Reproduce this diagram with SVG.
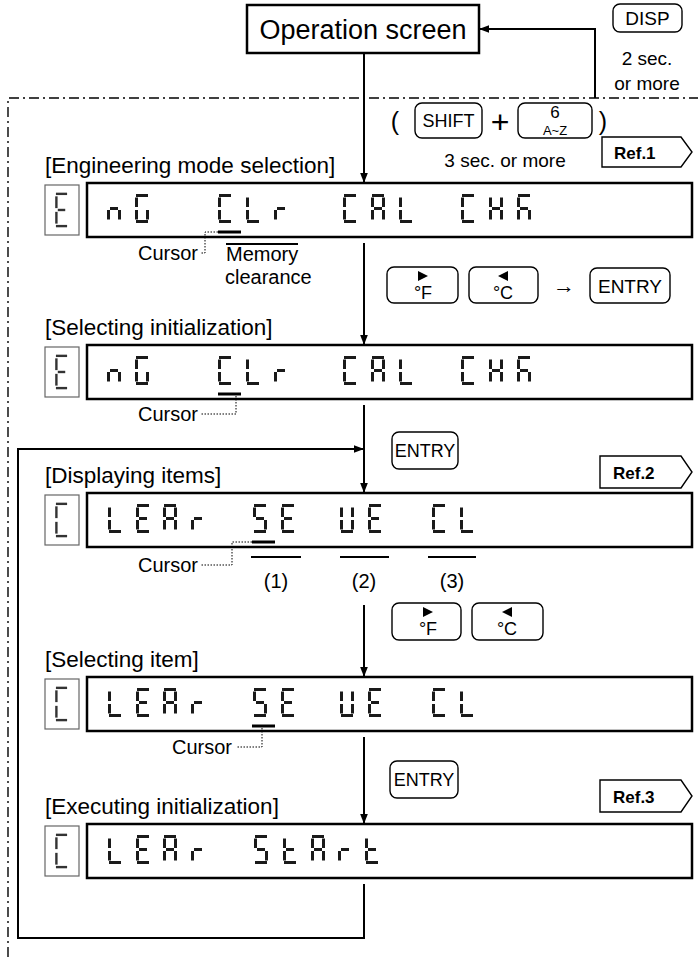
<svg xmlns="http://www.w3.org/2000/svg" width="698" height="957" viewBox="0 0 698 957">
<defs>
<style>
text{font-family:"Liberation Sans",Arial,Helvetica,sans-serif;fill:#000}
.lbl{font-size:22.5px}
.t20{font-size:20px}
.mid{text-anchor:middle}
.end{text-anchor:end}
.key{fill:#fff;stroke:#000;stroke-width:1.4}
.ktx{font-size:18px;text-anchor:middle}
.ftx{font-size:18px;text-anchor:middle}
.disp{fill:#fff;stroke:#000;stroke-width:2.5}
.sbox{fill:#fff;stroke:#666;stroke-width:1.2}
.dg{stroke:#1a1a1a;stroke-width:3}
.sg{stroke:#333;stroke-width:2.4}
.conn{fill:none;stroke:#000;stroke-width:2}
.dot{fill:none;stroke:#000;stroke-width:1;stroke-dasharray:1.5 1.5}
.ovl{stroke:#000;stroke-width:2}
.cur{stroke:#000;stroke-width:3}
.ref{fill:#fff;stroke:#000;stroke-width:1.4}
.reft{font-size:17px;font-weight:bold}
.frame{fill:none;stroke:#000;stroke-width:1.4;stroke-dasharray:10 4 2 4}
</style>
<marker id="ah" viewBox="0 0 10 10" refX="10" refY="5" markerWidth="10" markerHeight="10" orient="auto" markerUnits="userSpaceOnUse">
<path d="M0,1.2 L10,5 L0,8.8 z" fill="#000"/>
</marker>
<line id="sa" x1="1" y1="1.5" x2="13" y2="1.5" vector-effect="non-scaling-stroke"/>
<line id="sb" x1="12.5" y1="3.5" x2="12.5" y2="13" vector-effect="non-scaling-stroke"/>
<line id="sc" x1="12.5" y1="16" x2="12.5" y2="25.5" vector-effect="non-scaling-stroke"/>
<line id="sd" x1="1" y1="27.5" x2="13" y2="27.5" vector-effect="non-scaling-stroke"/>
<line id="se" x1="1.5" y1="16" x2="1.5" y2="25.5" vector-effect="non-scaling-stroke"/>
<line id="sf" x1="1.5" y1="3.5" x2="1.5" y2="13" vector-effect="non-scaling-stroke"/>
<line id="sg" x1="3" y1="14.5" x2="11" y2="14.5" vector-effect="non-scaling-stroke"/>
<g id="g-n"><use href="#se"/><use href="#sg"/><use href="#sc"/></g>
<g id="g-G"><use href="#sa"/><use href="#sf"/><use href="#se"/><use href="#sd"/><use href="#sc"/></g>
<g id="g-C"><use href="#sa"/><use href="#sf"/><use href="#se"/><use href="#sd"/></g>
<g id="g-L"><use href="#sf"/><use href="#se"/><use href="#sd"/></g>
<g id="g-r"><use href="#se"/><use href="#sg"/></g>
<g id="g-A"><use href="#sa"/><use href="#sb"/><use href="#sc"/><use href="#se"/><use href="#sf"/><use href="#sg"/></g>
<g id="g-A2"><use href="#sa"/><use href="#sf"/><use href="#sg"/><use href="#se"/><use href="#sc"/></g>
<g id="g-H"><use href="#sb"/><use href="#sc"/><use href="#se"/><use href="#sf"/><use href="#sg"/></g>
<g id="g-S"><use href="#sa"/><use href="#sf"/><use href="#sg"/><use href="#sc"/><use href="#sd"/></g>
<g id="g-E"><use href="#sa"/><use href="#sf"/><use href="#sg"/><use href="#se"/><use href="#sd"/></g>
<g id="g-U"><use href="#sb"/><use href="#sc"/><use href="#sd"/><use href="#se"/><use href="#sf"/></g>
<g id="g-t"><use href="#sf"/><use href="#sg"/><use href="#se"/><use href="#sd"/></g>
</defs>

<rect width="698" height="957" fill="#fff"/>

<path class="frame" d="M8,957 V98 H698"/>

<g id="connectors">
<path class="conn" d="M364,53 V183" marker-end="url(#ah)"/>
<path class="conn" d="M364,243 V345" marker-end="url(#ah)"/>
<path class="conn" d="M364,405 V493" marker-end="url(#ah)"/>
<path class="conn" d="M364,605 V677" marker-end="url(#ah)"/>
<path class="conn" d="M364,737 V824" marker-end="url(#ah)"/>
<path class="conn" d="M364,884 V938 H18 V449 H364" marker-end="url(#ah)"/>
<path class="conn" d="M595,98 V29 H479" marker-end="url(#ah)"/>
</g>

<g id="op-screen">
<rect x="247" y="5" width="232" height="48" fill="#fff" stroke="#000" stroke-width="2.5"/>
<text x="363" y="39" class="mid" font-size="27">Operation screen</text>
</g>

<g id="disp-key">
<rect class="key" x="613" y="4" width="69" height="28" rx="7"/>
<text x="647.5" y="24.5" class="mid" font-size="19">DISP</text>
<text x="647" y="65" class="mid" font-size="19">2 sec.</text>
<text x="647" y="90" class="mid" font-size="19">or more</text>
</g>

<g id="shift-keys">
<text x="395" y="130" class="mid" font-size="25">(</text>
<rect class="key" x="415" y="103" width="67" height="35" rx="7"/>
<text x="448.5" y="127" class="ktx">SHIFT</text>
<text x="500" y="133" class="mid" font-size="32">+</text>
<rect class="key" x="518" y="103" width="74" height="35" rx="7"/>
<text x="555" y="118" class="mid" font-size="17">6</text>
<text x="555" y="135" class="mid" font-size="13">A~Z</text>
<text x="603" y="130" class="mid" font-size="25">)</text>
<text x="505" y="167" class="mid" font-size="19">3 sec. or more</text>
</g>

<g id="ref1">
<polygon class="ref" points="602,137 681,137 692,152 681,167 602,167"/>
<text x="614" y="159" class="reft">Ref.1</text>
</g>

<g id="row-engineering">
<text x="45" y="173" class="lbl">[Engineering mode selection]</text>
<rect class="sbox" x="45" y="185" width="34" height="50"/>
<use href="#g-E" class="sg" transform="translate(55,192) scale(0.93,1.24)"/>
<rect class="disp" x="87" y="183" width="605" height="54"/>
<g class="dg">
<use href="#g-n" x="107" y="194"/><use href="#g-G" x="135" y="194"/>
<use href="#g-C" x="218" y="194"/><use href="#g-L" x="246" y="194"/><use href="#g-r" x="274" y="194"/>
<use href="#g-C" x="343" y="194"/><use href="#g-A" x="371" y="194"/><use href="#g-L" x="399" y="194"/>
<use href="#g-C" x="461" y="194"/><use href="#g-H" x="489" y="194"/><use href="#g-A2" x="517" y="194"/>
</g>
<line class="cur" x1="218" y1="232" x2="241" y2="232"/>
<path class="dot" d="M218,232 H205 V253 H200"/>
<text x="198" y="260" class="end t20">Cursor</text>
<line class="ovl" x1="226" y1="244" x2="298" y2="244"/>
<text x="226" y="261" class="t20">Memory</text>
<text x="225" y="284" class="t20">clearance</text>
</g>

<g id="keys-1">
<rect class="key" x="387" y="267" width="71" height="36" rx="7"/>
<polygon points="418,271 428,276 418,281" fill="#000"/>
<text x="423" y="299" class="ftx">°F</text>
<rect class="key" x="469" y="267" width="69" height="36" rx="7"/>
<polygon points="508,271 498,276 508,281" fill="#000"/>
<text x="503" y="299" class="ftx">°C</text>
<text x="564" y="293" class="mid" font-size="22">→</text>
<rect class="key" x="590" y="268" width="80" height="35" rx="7"/>
<text x="630" y="292.5" class="mid" font-size="19">ENTRY</text>
</g>

<g id="row-selecting-init">
<text x="45" y="335" class="lbl">[Selecting initialization]</text>
<rect class="sbox" x="45" y="347" width="34" height="50"/>
<use href="#g-E" class="sg" transform="translate(55,354) scale(0.93,1.24)"/>
<rect class="disp" x="87" y="345" width="605" height="54"/>
<g class="dg">
<use href="#g-n" x="107" y="356"/><use href="#g-G" x="135" y="356"/>
<use href="#g-C" x="218" y="356"/><use href="#g-L" x="246" y="356"/><use href="#g-r" x="274" y="356"/>
<use href="#g-C" x="343" y="356"/><use href="#g-A" x="371" y="356"/><use href="#g-L" x="399" y="356"/>
<use href="#g-C" x="461" y="356"/><use href="#g-H" x="489" y="356"/><use href="#g-A2" x="517" y="356"/>
</g>
<line class="cur" x1="218" y1="394" x2="241" y2="394"/>
<path class="dot" d="M236,396 V414 H200"/>
<text x="198" y="421" class="end t20">Cursor</text>
</g>

<g id="keys-2">
<rect class="key" x="392" y="432" width="66" height="37" rx="7"/>
<text x="425" y="457" class="ktx">ENTRY</text>
</g>

<g id="ref2">
<polygon class="ref" points="600,456 681,456 692,472 681,488 600,488"/>
<text x="613" y="479" class="reft">Ref.2</text>
</g>

<g id="row-displaying">
<text x="45" y="483" class="lbl">[Displaying items]</text>
<rect class="sbox" x="45" y="495" width="34" height="50"/>
<use href="#g-C" class="sg" transform="translate(55,502) scale(0.93,1.24)"/>
<rect class="disp" x="87" y="493" width="605" height="54"/>
<g class="dg">
<use href="#g-L" x="108" y="504"/><use href="#g-E" x="136" y="504"/><use href="#g-A" x="163" y="504"/><use href="#g-r" x="191" y="504"/>
<use href="#g-S" x="253" y="504"/><use href="#g-E" x="281" y="504"/>
<use href="#g-U" x="340" y="504"/><use href="#g-E" x="368" y="504"/>
<use href="#g-C" x="432" y="504"/><use href="#g-L" x="460" y="504"/>
</g>
<line class="cur" x1="252" y1="542" x2="275" y2="542"/>
<path class="dot" d="M252,542 H232 V565 H200"/>
<text x="198" y="572" class="end t20">Cursor</text>
<line class="ovl" x1="251" y1="557" x2="301" y2="557"/>
<line class="ovl" x1="340" y1="557" x2="389" y2="557"/>
<line class="ovl" x1="428" y1="557" x2="476" y2="557"/>
<text x="276" y="588" class="mid t20">(1)</text>
<text x="364" y="588" class="mid t20">(2)</text>
<text x="452" y="588" class="mid t20">(3)</text>
</g>

<g id="keys-3">
<rect class="key" x="392" y="603" width="69" height="37" rx="7"/>
<polygon points="423,607 433,612 423,617" fill="#000"/>
<text x="428" y="635" class="ftx">°F</text>
<rect class="key" x="472" y="603" width="71" height="37" rx="7"/>
<polygon points="512,607 502,612 512,617" fill="#000"/>
<text x="507" y="635" class="ftx">°C</text>
</g>

<g id="row-selecting-item">
<text x="45" y="667" class="lbl">[Selecting item]</text>
<rect class="sbox" x="45" y="679" width="34" height="50"/>
<use href="#g-C" class="sg" transform="translate(55,686) scale(0.93,1.24)"/>
<rect class="disp" x="87" y="677" width="605" height="54"/>
<g class="dg">
<use href="#g-L" x="108" y="688"/><use href="#g-E" x="136" y="688"/><use href="#g-A" x="163" y="688"/><use href="#g-r" x="191" y="688"/>
<use href="#g-S" x="253" y="688"/><use href="#g-E" x="281" y="688"/>
<use href="#g-U" x="340" y="688"/><use href="#g-E" x="368" y="688"/>
<use href="#g-C" x="432" y="688"/><use href="#g-L" x="460" y="688"/>
</g>
<line class="cur" x1="252" y1="726" x2="275" y2="726"/>
<path class="dot" d="M262,728 V747 H236"/>
<text x="232" y="754" class="end t20">Cursor</text>
</g>

<g id="keys-4">
<rect class="key" x="390" y="761" width="68" height="37" rx="7"/>
<text x="424" y="786" class="ktx">ENTRY</text>
</g>

<g id="ref3">
<polygon class="ref" points="600,780 681,780 692,796 681,812 600,812"/>
<text x="613" y="803" class="reft">Ref.3</text>
</g>

<g id="row-executing">
<text x="45" y="814" class="lbl">[Executing initialization]</text>
<rect class="sbox" x="45" y="826" width="34" height="50"/>
<use href="#g-C" class="sg" transform="translate(55,833) scale(0.93,1.24)"/>
<rect class="disp" x="87" y="824" width="605" height="54"/>
<g class="dg">
<use href="#g-L" x="108" y="835"/><use href="#g-E" x="136" y="835"/><use href="#g-A" x="163" y="835"/><use href="#g-r" x="191" y="835"/>
<use href="#g-S" x="254" y="835"/><use href="#g-t" x="283" y="835"/><use href="#g-A" x="311" y="835"/><use href="#g-r" x="338" y="835"/><use href="#g-t" x="365" y="835"/>
</g>
</g>
</svg>
